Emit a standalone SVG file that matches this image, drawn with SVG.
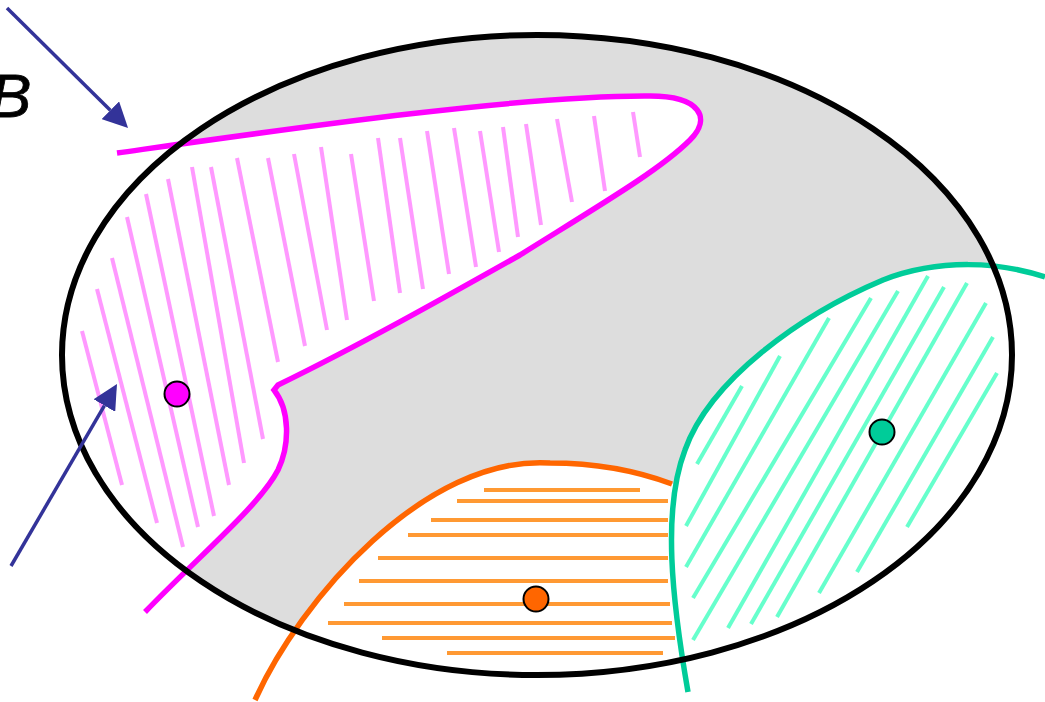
<svg xmlns="http://www.w3.org/2000/svg" width="1045" height="702" viewBox="0 0 1045 702">
<style>
.hm{stroke:#ff99ff;stroke-width:4;fill:none}
.hg{stroke:#66ffcc;stroke-width:4;fill:none}
.ho{stroke:#ff9933;stroke-width:4;fill:none}
.dot{stroke:#000;stroke-width:2}
.arr{stroke:#333399;stroke-width:3.5;fill:none;marker-end:url(#ah)}
</style>
<defs>
<clipPath id="ell"><ellipse cx="537" cy="355" rx="475" ry="320"/></clipPath>
<marker id="ah" markerUnits="userSpaceOnUse" viewBox="0 0 25 25" refX="0" refY="12.5" markerWidth="25" markerHeight="25" orient="auto">
<path d="M0,0 L25,12.5 L0,25 Z" fill="#333399"/>
</marker>
</defs>
<g id="set">
<ellipse cx="537" cy="355" rx="475" ry="320" fill="#dddddd"/>
</g>
<g id="regions" clip-path="url(#ell)">
<path d="M117,153 C280,130 520,95 650,96 C700,96 712,118 690,140 C660,170 600,205 520,255 C440,300 360,345 278,385 L274,390 C290,410 290,445 278,470 C260,505 200,555 145,612 L20,612 L20,153 Z" fill="#fff"/>
<path d="M255,700 C300,600 425,455 550,463 C600,463 640,472 672,484 L700,484 L700,702 L255,702 Z" fill="#fff"/>
<path d="M1045,277 C1000,262 940,258 883,280 C800,315 710,380 685,450 C662,510 672,600 688,692 L1045,702 Z" fill="#fff"/>
</g>
<g id="hatch-magenta" class="hm">
<line x1="82" y1="331" x2="122" y2="485"/>
<line x1="97" y1="289" x2="157" y2="523"/>
<line x1="112" y1="258" x2="183" y2="547"/>
<line x1="127" y1="217" x2="198" y2="527"/>
<line x1="146" y1="194" x2="214" y2="516"/>
<line x1="168" y1="179" x2="229" y2="485"/>
<line x1="192" y1="167" x2="244" y2="463"/>
<line x1="211" y1="167" x2="263" y2="439"/>
<line x1="237" y1="158" x2="278" y2="362"/>
<line x1="268" y1="158" x2="305" y2="346"/>
<line x1="294" y1="154" x2="327" y2="330"/>
<line x1="321" y1="147" x2="347" y2="320"/>
<line x1="351" y1="154" x2="374" y2="301"/>
<line x1="378" y1="138" x2="400" y2="293"/>
<line x1="400" y1="138" x2="423" y2="289"/>
<line x1="427" y1="131" x2="449" y2="274"/>
<line x1="454" y1="128" x2="476" y2="267"/>
<line x1="480" y1="131" x2="499" y2="252"/>
<line x1="503" y1="127" x2="518" y2="237"/>
<line x1="526" y1="124" x2="541" y2="225"/>
<line x1="557" y1="119" x2="572" y2="202"/>
<line x1="594" y1="116" x2="605" y2="191"/>
<line x1="633" y1="112" x2="640" y2="157"/>
</g>
<g id="hatch-orange" class="ho">
<line x1="484" y1="490" x2="640" y2="490"/>
<line x1="457" y1="501" x2="668" y2="501"/>
<line x1="431" y1="520" x2="668" y2="520"/>
<line x1="408" y1="535" x2="668" y2="535"/>
<line x1="378" y1="558" x2="668" y2="558"/>
<line x1="359" y1="581" x2="668" y2="581"/>
<line x1="344" y1="604" x2="670" y2="604"/>
<line x1="328" y1="623" x2="672" y2="623"/>
<line x1="382" y1="638" x2="675" y2="638"/>
<line x1="447" y1="653" x2="663" y2="653"/>
</g>
<g id="hatch-green" class="hg">
<line x1="742" y1="386" x2="697" y2="464"/>
<line x1="780" y1="356" x2="686" y2="526"/>
<line x1="829" y1="318" x2="686" y2="567"/>
<line x1="871" y1="298" x2="693" y2="598"/>
<line x1="898" y1="291" x2="693" y2="640"/>
<line x1="928" y1="276" x2="728" y2="628"/>
<line x1="944" y1="287" x2="751" y2="624"/>
<line x1="967" y1="283" x2="777" y2="617"/>
<line x1="986" y1="303" x2="819" y2="593"/>
<line x1="993" y1="337" x2="857" y2="572"/>
<line x1="997" y1="373" x2="907" y2="527"/>
</g>
<g id="boundaries" fill="none" stroke-width="5.5">
<path id="b-magenta" d="M117,153 C280,130 520,95 650,96 C700,96 712,118 690,140 C660,170 600,205 520,255 C440,300 360,345 278,385 L274,390 C290,410 290,445 278,470 C260,505 200,555 145,612" stroke="#ff00ff"/>
<path id="b-orange" d="M255,700 C300,600 425,455 550,463 C600,463 640,472 672,484" stroke="#ff6600"/>
<path id="b-green" d="M1045,277 C1000,262 940,258 883,280 C800,315 710,380 685,450 C662,510 672,600 688,692" stroke="#00cc99"/>
</g>
<g id="ellipse-outline">
<ellipse cx="537" cy="355" rx="475" ry="320" fill="none" stroke="#000" stroke-width="6"/>
</g>
<g id="dots">
<circle id="dot-magenta" class="dot" cx="177" cy="394" r="12.5" fill="#ff00ff"/>
<circle id="dot-orange" class="dot" cx="536" cy="599" r="12.5" fill="#ff6600"/>
<circle id="dot-green" class="dot" cx="882" cy="432" r="12.5" fill="#00cc99"/>
</g>
<g id="connectors">
<line class="arr" x1="7" y1="8" x2="110.3" y2="110.3"/>
<line class="arr" x1="11" y1="566" x2="104.4" y2="405.6"/>
</g>
<g id="label-B">
<text x="-10" y="117" font-family="Liberation Sans, Arial, sans-serif" font-style="italic" font-size="62" fill="#000" stroke="#000" stroke-width="0.8">B</text>
</g>
</svg>
